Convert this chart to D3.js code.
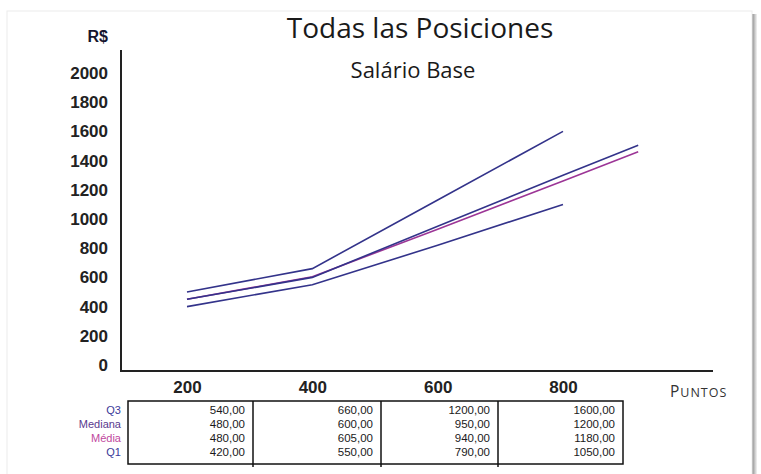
<!DOCTYPE html>
<html>
<head>
<meta charset="utf-8">
<script src="https://cdn.jsdelivr.net/npm/d3@7"></script>
<style>
  body { margin: 0; background: #fff; }
  svg { display: block; }
</style>
</head>
<body>
<svg id="chart" width="761" height="474"></svg>
<script>
// points on the x axis (last point only for median / mean)
var puntos = [200, 400, 600, 800, 920];

// values
var q3Line      = [500, 660, 1130, 1600, null];
var medianaLine = [450, 600, 950, 1300, 1505];
var mediaLine   = [450, 605, 930, 1260, 1460];
var q1Line      = [400, 550, 820, 1100, null];

// values printed in the table under the chart
var tableRows  = ["Q3", "Mediana", "Média", "Q1"];
var q3Tab      = ["540,00", "660,00", "1200,00", "1600,00"];
var medianaTab = ["480,00", "600,00", "950,00", "1200,00"];
var mediaTab   = ["480,00", "605,00", "940,00", "1180,00"];
var q1Tab      = ["420,00", "550,00", "790,00", "1050,00"];

var xTicks = [200, 400, 600, 800];
var yTicks = [0, 200, 400, 600, 800, 1000, 1200, 1400, 1600, 1800, 2000];

var blue = "#33338a",
    magenta = "#9c3596";

var svg = d3.select("#chart");

// panel with shadow on the right
var defs = svg.append("defs");
var grad = defs.append("linearGradient").attr("id", "shadow");
grad.append("stop").attr("offset", "0%").attr("stop-color", "#8a8a8a");
grad.append("stop").attr("offset", "100%").attr("stop-color", "#f4f4f4");

svg.append("rect")
    .attr("x", 752).attr("y", 14)
    .attr("width", 5).attr("height", 470)
    .attr("fill", "url(#shadow)");
svg.append("rect")
    .attr("x", 7).attr("y", 11)
    .attr("width", 745).attr("height", 470)
    .attr("fill", "#fff")
    .attr("stroke", "#ececec");

// titles
svg.append("text")
    .attr("x", 420).attr("y", 38)
    .attr("text-anchor", "middle")
    .attr("font-family", "Open Sans")
    .attr("font-size", 28)
    .attr("fill", "#1a1a1a")
    .text("Todas las Posiciones");

svg.append("text")
    .attr("x", 413).attr("y", 78)
    .attr("text-anchor", "middle")
    .attr("font-family", "Open Sans")
    .attr("font-size", 22)
    .attr("fill", "#1a1a1a")
    .text("Salário Base");

var x = d3.scaleLinear().domain([200, 800]).range([187, 563]);
var y = d3.scaleLinear().domain([0, 2000]).range([365, 73]);

// y axis
var yAxis = svg.append("g")
    .attr("transform", "translate(121,0)")
    .call(d3.axisLeft(y).tickValues(yTicks).tickFormat(d3.format("d"))
        .tickSize(0).tickPadding(13));
yAxis.select(".domain").remove();
yAxis.selectAll("text")
    .attr("font-family", "Liberation Sans, Arial")
    .attr("font-weight", "bold")
    .attr("font-size", 17)
    .attr("fill", "#222");

svg.append("text")
    .attr("x", 108).attr("y", 42)
    .attr("text-anchor", "end")
    .attr("font-family", "Liberation Sans, Arial")
    .attr("font-weight", "bold")
    .attr("font-size", 16)
    .attr("fill", "#15152e")
    .text("R$");

// x axis
var xAxis = svg.append("g")
    .attr("transform", "translate(0,371)")
    .call(d3.axisBottom(x).tickValues(xTicks).tickFormat(d3.format("d"))
        .tickSize(0).tickPadding(10));
xAxis.select(".domain").remove();
xAxis.selectAll("text")
    .attr("font-family", "Liberation Sans, Arial")
    .attr("font-weight", "bold")
    .attr("font-size", 17)
    .attr("fill", "#222");

// axis lines
svg.append("line")
    .attr("x1", 121).attr("x2", 121)
    .attr("y1", 50).attr("y2", 371)
    .attr("stroke", "#222").attr("stroke-width", 2);
svg.append("line")
    .attr("x1", 120).attr("x2", 713)
    .attr("y1", 371).attr("y2", 371)
    .attr("stroke", "#222").attr("stroke-width", 2);

// axis title in small caps
var pt = svg.append("text")
    .attr("x", 670).attr("y", 397)
    .attr("font-family", "Open Sans")
    .attr("fill", "#333")
    .attr("letter-spacing", 1);
pt.append("tspan").attr("font-size", 15.5).text("P");
pt.append("tspan").attr("font-size", 12.5).text("UNTOS");

// lines
var line = d3.line()
    .defined(function(d) { return d[1] != null; })
    .x(function(d) { return x(d[0]); })
    .y(function(d) { return y(d[1]); });

var series = [
    { name: "Q1", values: q1Line, color: blue },
    { name: "Q3", values: q3Line, color: blue },
    { name: "Média", values: mediaLine, color: magenta },
    { name: "Mediana", values: medianaLine, color: blue }
];

svg.append("g")
  .selectAll("path")
  .data(series)
  .enter().append("path")
    .attr("fill", "none")
    .attr("stroke", function(d) { return d.color; })
    .attr("stroke-width", 1.6)
    .attr("d", function(d) {
        return line(puntos.map(function(p, i) { return [p, d.values[i]]; }));
    });

// data table
var colEdges = [128, 253, 381, 498, 623];
var tableTop = 401, tableBottom = 464;
var rowY = [414, 428, 442, 456];
var rowColors = ["#3b3b9a", "#5a3a8e", "#c0489e", "#3b3b9a"];
var tableData = [q3Tab, medianaTab, mediaTab, q1Tab];

var tbl = svg.append("g");

tbl.append("rect")
    .attr("x", colEdges[0]).attr("y", tableTop)
    .attr("width", colEdges[4] - colEdges[0])
    .attr("height", tableBottom - tableTop)
    .attr("fill", "none")
    .attr("stroke", "#111").attr("stroke-width", 1.5);

tbl.selectAll("line.div")
    .data(colEdges.slice(1, 4))
    .enter().append("line")
    .attr("class", "div")
    .attr("x1", function(d) { return d; }).attr("x2", function(d) { return d; })
    .attr("y1", tableTop).attr("y2", tableBottom + 3)
    .attr("stroke", "#111").attr("stroke-width", 1.5);

tbl.selectAll("text.rowlab")
    .data(tableRows)
    .enter().append("text")
    .attr("class", "rowlab")
    .attr("x", 121)
    .attr("y", function(d, i) { return rowY[i]; })
    .attr("text-anchor", "end")
    .attr("font-family", "Liberation Sans, Arial")
    .attr("font-size", 11)
    .attr("fill", function(d, i) { return rowColors[i]; })
    .text(function(d) { return d; });

tableData.forEach(function(row, r) {
    tbl.selectAll(null)
        .data(row)
        .enter().append("text")
        .attr("x", function(d, c) { return colEdges[c + 1] - 8; })
        .attr("y", rowY[r])
        .attr("text-anchor", "end")
        .attr("font-family", "Liberation Sans, Arial")
        .attr("font-size", 11.5)
        .attr("fill", "#1a1a1a")
        .text(function(d) { return d; });
});
</script>
</body>
</html>
